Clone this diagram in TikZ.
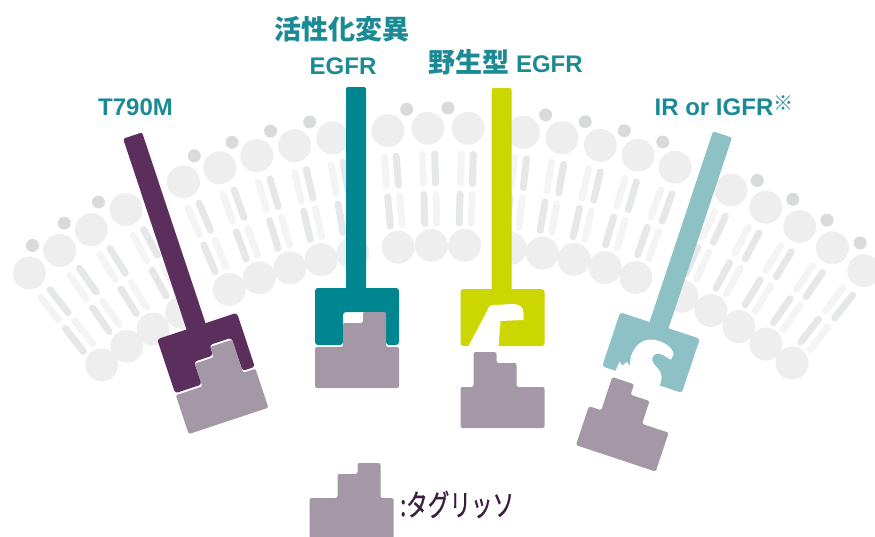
\documentclass[tikz,border=0pt]{standalone}
\usepackage{fontspec}
\usepackage{graphicx}
\setmainfont{Liberation Sans}
\newfontfamily\jpfont{Noto Sans CJK JP}
\newfontfamily\jplegend[FakeBold=1]{Noto Sans CJK JP}
\newcommand{\cjk}{\jpfont\fontsize{27}{27}\selectfont}
\usetikzlibrary{positioning}

\definecolor{tmpurple}{RGB}{91,46,94}
\definecolor{actteal}{RGB}{0,134,145}
\definecolor{wtlime}{RGB}{204,214,0}
\definecolor{irteal}{RGB}{141,193,197}
\definecolor{druggray}{RGB}{164,152,166}
\definecolor{labelteal}{RGB}{27,138,149}
\definecolor{legendtext}{RGB}{58,30,62}
\definecolor{headgray}{RGB}{238,238,238}
\definecolor{knobgray}{RGB}{217,219,219}
\definecolor{taillight}{RGB}{244,244,244}
\definecolor{taildark}{RGB}{230,232,232}

% 药物（台阶形）
\newcommand{\tagdrug}[1]{%
  \fill[druggray,rounded corners=2,#1] (-42,100) -- (-42,59) -- (-14,59) -- (-14,35) -- (6,35) -- (6,24)
    -- (29,24) -- (29,59) -- (42,59) -- (42,100) -- cycle;}

\tikzset{
  tail/.style={line width=7pt,line cap=round},
  rlabel/.style={font=\bfseries\fontsize{24}{24}\selectfont,text=labelteal,inner sep=0pt,anchor=base},
}

\begin{document}
\begin{tikzpicture}[x=1pt,y=-1pt]
	\useasboundingbox (0,0) rectangle (875,536);
	\clip (0,0) rectangle (875,536);

	% 细胞膜：脂质双层
	\foreach \a in {-38.2,-35,-31.8,-28.4,-23,-19.7,-16.4,-13.1,-9.8,-5.1,-1.7,1.7,6.4,9.7,13,16.3,19.6,24.7,28,31.3,34.6,37.9} {
		\begin{scope}[shift={(448,805)},rotate=-\a]
			\draw[tail,taillight] (-6,-651) -- (-6,-622);
			\draw[tail,taildark] (6,-651) -- (6,-622);
			\draw[tail,taildark] (-6,-611) -- (-6,-582);
			\draw[tail,taillight] (6,-611) -- (6,-582);
			\fill[headgray] (0,-677) circle (16.5);
			\fill[headgray] (0,-560) circle (16.5);
		\end{scope}
	}
	\foreach \a in {-36.6,-33.4,-30.1,-21.35,-18.05,-14.75,-11.45,-3.4,0,8.05,11.35,14.65,17.95,26.35,29.65,32.95,36.25}
		\fill[knobgray,shift={(448,805)},rotate=-\a] (0,-697) circle (6.5);

	% T790M
	\begin{scope}[shift={(197,326)},rotate=18.4]
		\fill[tmpurple,rounded corners=2] (-11,-201) rectangle (9,4);
		\fill[tmpurple,rounded corners=3] (-42,0) -- (42,0) -- (42,57) -- (29,57) -- (29,22) -- (6,22)
			-- (6,33) -- (-14,33) -- (-14,57) -- (-42,57) -- cycle;
		\tagdrug{}
	\end{scope}

	% 活性化变异 EGFR
	\begin{scope}[shift={(357,288)}]
		\fill[actteal,rounded corners=2] (-11,-201) rectangle (9,4);
		\fill[actteal,rounded corners=3] (-42,0) -- (42,0) -- (42,57) -- (29,57) -- (29,24) -- (-14,24)
			-- (-14,57) -- (-42,57) -- cycle;
		\tagdrug{}
	\end{scope}

	% 野生型 EGFR
	\begin{scope}[shift={(502.5,289)}]
		\fill[wtlime,rounded corners=2] (-11,-201) rectangle (9,4);
		\fill[wtlime,rounded corners=3] (-42,0) rectangle (42,57);
		\fill[white] (-35,59) -- (-16,23) .. controls (-14,17) and (-12,16) .. (-8,16) -- (10,15)
			.. controls (17,15) and (21,18) .. (21,24) -- (21,31) -- (-2,32) -- (-4,59) -- cycle;
		\tagdrug{shift={(0,39)},xscale=-1}
	\end{scope}

	% IR / IGFR
	\begin{scope}[shift={(660,325.5)},rotate=-18.4]
		\fill[irteal,rounded corners=2] (-11,-201) rectangle (9,4);
		\fill[irteal,rounded corners=3] (-42,0) rectangle (42,57);
		\fill[white] (-28,59) -- (-27,47) -- (-23,50) -- (-20,45) -- (-16,48) -- (-18,38) -- (-17,31)
			.. controls (-15,22) and (-8,15) .. (3,15) .. controls (12,15) and (20,18) .. (22,23)
			-- (21,29) -- (12,27) .. controls (6,26) and (3,29) .. (3,33) .. controls (3,37) and (7,39) .. (11,41)
			.. controls (18,45) and (20,51) .. (18,59) -- cycle;
		\tagdrug{shift={(0,40)},xscale=-1}
	\end{scope}

	% 标签
	\node[rlabel] (t790m) at (135.5,115) {T790M};
	\node[rlabel] (actmut) at (342,39) {\cjk 活性化変異};
	\node[rlabel] (actegfr) at (343,74) {EGFR};
	\node[rlabel] (wtegfr) at (505.5,72) {{\cjk 野生型} EGFR};
	\node[rlabel] (irigfr) at (724,115) {IR or IGFR\raisebox{5pt}{\jpfont\fontsize{20}{20}\selectfont ※}};

	% 图例
	\tagdrug{shift={(351.5,439)}}
	\node[anchor=base west,inner sep=0pt,text=legendtext] (tagname) at (400,516)
		{\jplegend\fontsize{30}{30}\selectfont\scalebox{0.72}[1]{:タグリッソ}};
\end{tikzpicture}
\end{document}
